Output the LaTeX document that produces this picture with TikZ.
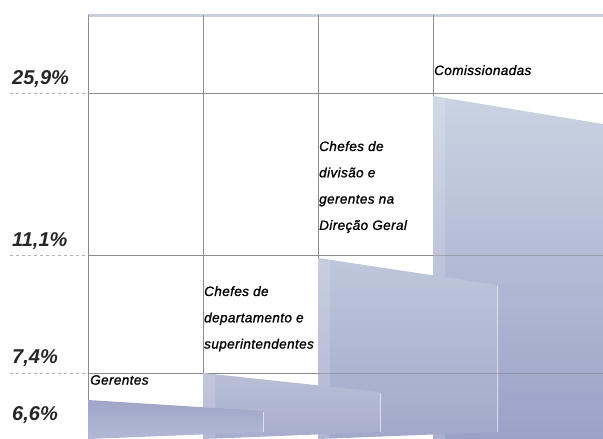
\documentclass[tikz,border=0pt]{standalone}
\usepackage{fontspec}
\setmainfont{Liberation Sans}
\newfontfamily\catfont[LetterSpace=3,FakeBold=1.2]{Liberation Sans}
\begin{document}
\begin{tikzpicture}[x=1pt,y=-1pt,
  gridline/.style={draw=black!45,line width=0.9pt},
  overline/.style={draw=black!60,opacity=0.35,line width=0.9pt},
  leftdash/.style={draw=black!30,line width=0.6pt,dash pattern=on 3pt off 3pt},
  axislabel/.style={anchor=west,inner sep=0pt,font=\fontsize{20}{20}\selectfont\bfseries\itshape,text=black!85},
  catlabel/.style={anchor=north west,inner sep=0pt,align=left,font=\catfont\fontsize{13.5}{26.3}\selectfont\itshape,text=black},
  edgehl/.style={draw=white,opacity=0.6,line width=1pt}
]
\definecolor{topA}{RGB}{202,211,226}
\definecolor{botA}{RGB}{156,161,199}
\definecolor{topB}{RGB}{190,199,219}
\definecolor{botB}{RGB}{162,168,202}
\definecolor{topC}{RGB}{184,191,214}
\definecolor{botC}{RGB}{168,173,206}
\definecolor{topD}{RGB}{160,165,201}
\definecolor{botD}{RGB}{178,184,212}
\definecolor{topline}{RGB}{200,206,222}
\useasboundingbox (0,0) rectangle (603,439);
\fill[white] (0,0) rectangle (603,439);

% grid (behind bars)
\draw[topline,line width=3pt] (88,15) -- (603,15);
\foreach \xx in {88,203,318,433} \draw[gridline] (\xx,15) -- (\xx,439);
\foreach \yy in {93,255,373} {
  \draw[gridline] (88,\yy) -- (603,\yy);
  \draw[leftdash] (10,\yy) -- (88,\yy);
}

% bars (back to front)
\shade[top color=topA,bottom color=botA] (433,96) -- (603,124) -- (603,439) -- (433,439) -- cycle;
\fill[white,opacity=0.15] (433,97) -- (445,99) -- (445,439) -- (433,439) -- cycle;
\shade[top color=topB,bottom color=botB] (318,258) -- (497,285) -- (497,432) -- (318,439) -- cycle;
\fill[white,opacity=0.15] (318,259) -- (330,261) -- (330,439) -- (318,439) -- cycle;
\draw[edgehl] (497,286) -- (497,432);
\shade[top color=topC,bottom color=botC] (203,373) -- (380,392) -- (380,432) -- (203,439) -- cycle;
\fill[white,opacity=0.15] (203,374) -- (215,375) -- (215,439) -- (203,439) -- cycle;
\draw[edgehl] (380,393) -- (380,432);
\shade[top color=topD,bottom color=botD] (88,400) -- (263,411) -- (263,432) -- (88,439) -- cycle;
\draw[edgehl] (263,412) -- (263,432);

% grid lines seen through the bars
\foreach \yy in {255,373} \draw[overline] (433,\yy) -- (603,\yy);
\draw[overline] (318,373) -- (433,373);

% axis labels
\node[axislabel] (l259) at (12,79) {25,9\%};
\node[axislabel] (l111) at (12,241) {11,1\%};
\node[axislabel] (l74) at (12,358) {7,4\%};
\node[axislabel] (l66) at (12,415) {6,6\%};

% category labels
\node[catlabel] (com) at (434,65) {Comissionadas};
\node[catlabel] (cdiv) at (319,141) {Chefes de\\divisão e\\gerentes na\\Direção Geral};
\node[catlabel] (cdep) at (204,286) {Chefes de\\departamento e\\superintendentes};
\node[catlabel] (ger) at (90,375) {Gerentes};
\end{tikzpicture}
\end{document}
